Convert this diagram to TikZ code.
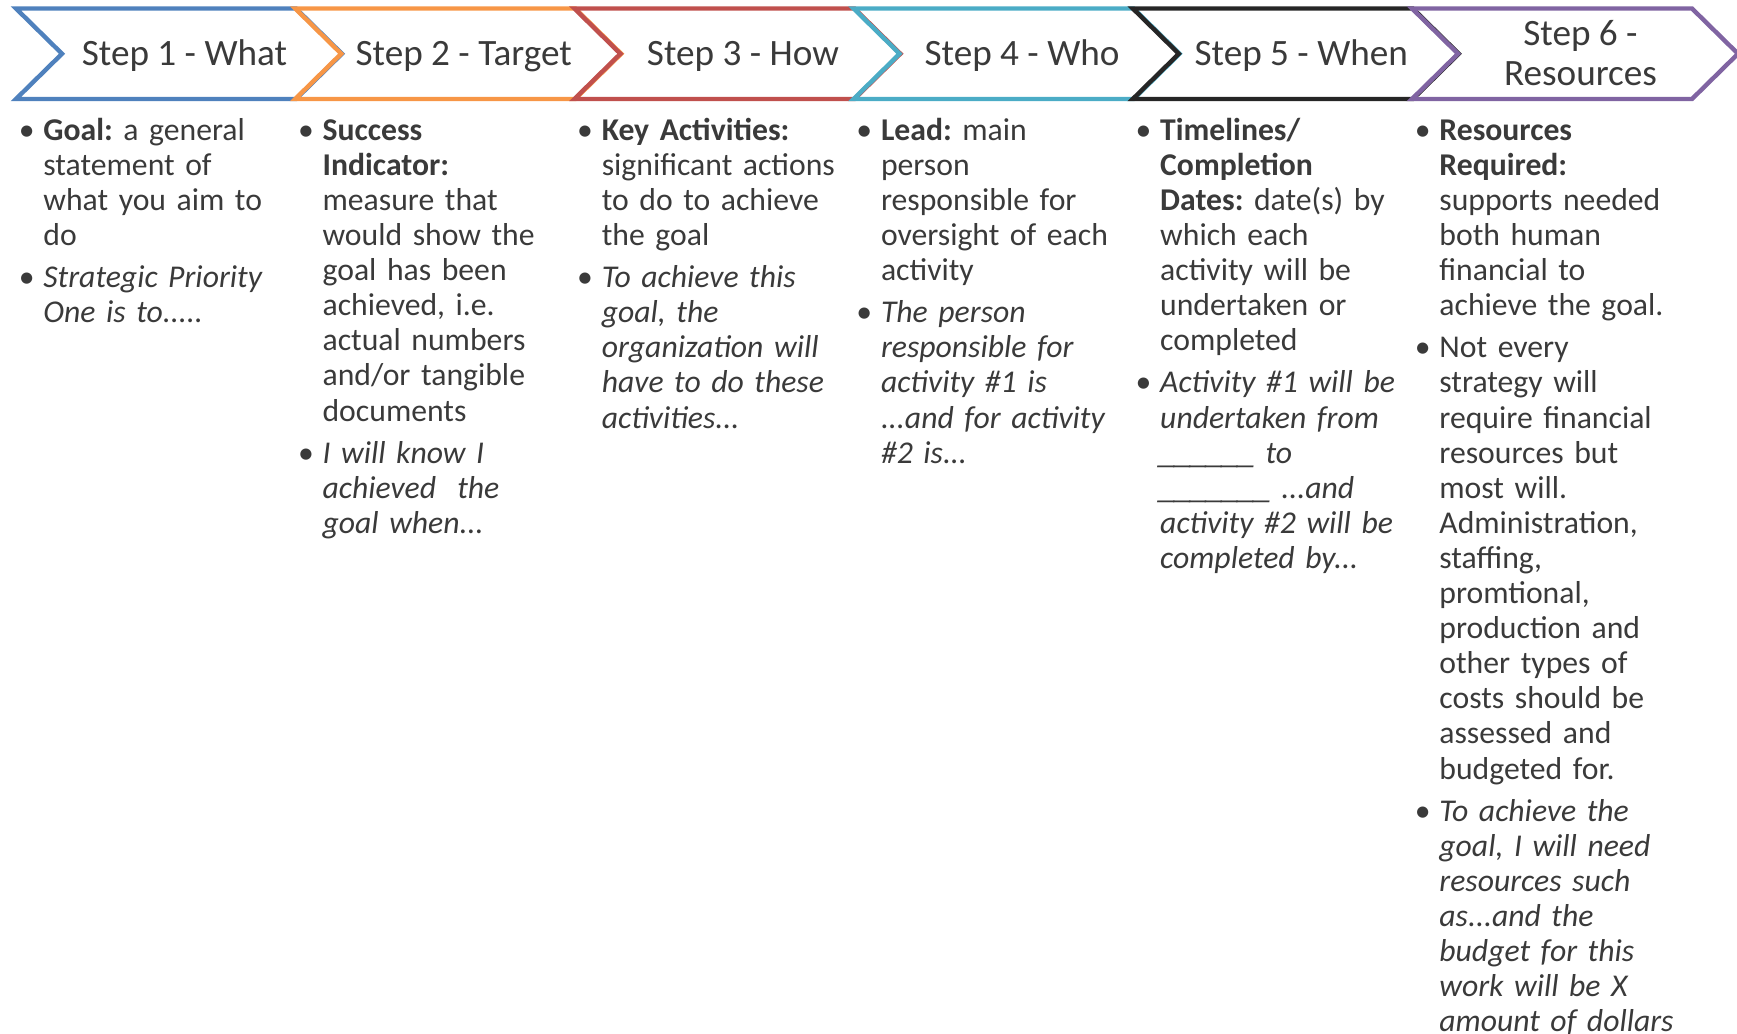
\documentclass[tikz,border=0pt]{standalone}
\usepackage{fontspec}
\setmainfont{Carlito}
\definecolor{stepblue}{HTML}{4F81BD}
\definecolor{steporange}{HTML}{F79646}
\definecolor{stepred}{HTML}{C0504D}
\definecolor{stepcyan}{HTML}{4BACC6}
\definecolor{stepdark}{HTML}{262626}
\definecolor{steppurple}{HTML}{8064A2}
\definecolor{txt}{HTML}{3A3A3A}
\tikzset{
  chev/.style={line width=2.2pt, line join=miter},
  head/.style={anchor=base, inner sep=0pt, text=txt, font=\fontsize{18.6pt}{20pt}\selectfont},
  col/.style={anchor=north west, inner sep=0pt, text width=140pt, align=left, text=txt, font=\fontsize{15.85pt}{17.55pt}\selectfont\frenchspacing},
}
% one bullet paragraph, lines after the first hang under the text
\newcommand{\itm}[1]{\par\noindent\hangindent=13.5pt\hangafter=1\makebox[13.5pt][l]{\rule{0pt}{13pt}\hspace{1.2pt}\textbullet}{\let\\\newline#1}\par\vspace{3.5pt}}
\newcommand{\us}{\makebox[7.9pt][c]{\scalebox{1.6}[1]{\_}}}

\begin{document}
\begin{tikzpicture}[x=0.5pt, y=-0.5pt]
  \useasboundingbox (0,0) rectangle (1737,1034);

  % chevrons
  \draw[chev, stepblue]   (16,8.5)     -- ++(280,0) -- ++(46,45.25) -- ++(-46,45.25) -- ++(-280,0) -- ++(46,-45.25) -- cycle;
  \draw[chev, steporange] (295.2,8.5)  -- ++(280,0) -- ++(46,45.25) -- ++(-46,45.25) -- ++(-280,0) -- ++(46,-45.25) -- cycle;
  \draw[chev, stepred]    (574.4,8.5)  -- ++(280,0) -- ++(46,45.25) -- ++(-46,45.25) -- ++(-280,0) -- ++(46,-45.25) -- cycle;
  \draw[chev, stepcyan]   (853.6,8.5)  -- ++(280,0) -- ++(46,45.25) -- ++(-46,45.25) -- ++(-280,0) -- ++(46,-45.25) -- cycle;
  \draw[chev, stepdark]   (1132.8,8.5) -- ++(280,0) -- ++(46,45.25) -- ++(-46,45.25) -- ++(-280,0) -- ++(46,-45.25) -- cycle;
  \draw[chev, steppurple] (1412,8.5)   -- ++(280,0) -- ++(46,45.25) -- ++(-46,45.25) -- ++(-280,0) -- ++(46,-45.25) -- cycle;

  % step titles
  \node[head] (what)  at (184.5,65.5)  {Step 1 - What};
  \node[head] (target) at (463.7,65.5) {Step 2 - Target};
  \node[head] (how)   at (742.9,65.5)  {Step 3 - How};
  \node[head] (who)   at (1022.1,65.5) {Step 4 - Who};
  \node[head] (when)  at (1301.3,65.5) {Step 5 - When};
  \node[head, align=center] (res) at (1580.5,85.5) {Step 6 -\\Resources};

  % columns
  \node[col] (goal) at (16,104.7) {%
    \itm{\textbf{Goal:} a general\\statement of\\what you aim to\\do}
    \itm{\textit{Strategic Priority\\One is to.....}}};
  \node[col] (indicator) at (295.2,104.7) {%
    \itm{\textbf{Success\\Indicator:}\\measure that\\would show the\\goal has been\\achieved, i.e.\\actual numbers\\and/or tangible\\documents}
    \itm{\textit{I will know I\\achieved\ \ the\\goal when...}}};
  \node[col] (activities) at (574.4,104.7) {%
    \itm{\textbf{Key Activities:}\\significant actions\\to do to achieve\\the goal}
    \itm{\textit{To achieve this\\goal, the\\organization will\\have to do these\\activities...}}};
  \node[col] (lead) at (853.6,104.7) {%
    \itm{\textbf{Lead:} main\\person\\responsible for\\oversight of each\\activity}
    \itm{\textit{The person\\responsible for\\activity \#1 is\\...and for activity\\\#2 is...}}};
  \node[col] (timeline) at (1132.8,104.7) {%
    \itm{\textbf{Timelines/\\Completion\\Dates:} date(s) by\\which each\\activity will be\\undertaken or\\completed}
    \itm{\textit{Activity \#1 will be\\undertaken from\\\us\us\us\us\us\us{} to\\\us\us\us\us\us\us\us{} ...and\\activity \#2 will be\\completed by...}}};
  \node[col] (resources) at (1412,104.7) {%
    \itm{\textbf{Resources\\Required:}\\supports needed\\both human\\financial to\\achieve the goal.}
    \itm{Not every\\strategy will\\require financial\\resources but\\most will.\\Administration,\\staffing,\\promtional,\\production and\\other types of\\costs should be\\assessed and\\budgeted for.}
    \itm{\textit{To achieve the\\goal, I will need\\resources such\\as...and the\\budget for this\\work will be X\\amount of dollars}}};
\end{tikzpicture}
\end{document}
